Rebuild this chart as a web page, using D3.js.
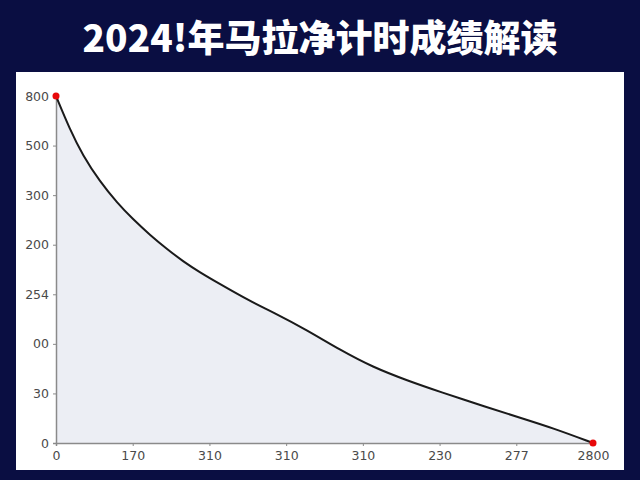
<!DOCTYPE html>
<html>
<head>
<meta charset="utf-8">
<title>2024!年马拉净计时成绩解读</title>
<script src="https://d3js.org/d3.v7.min.js"></script>
<style>
    body { margin: 0; background: #0a0e42; }
    svg { display: block; }
</style>
</head>
<body>
<div id="chart"></div>
<script>
    // tick labels as printed on the chart
    const xTickLabels = ["0", "170", "310", "310", "310", "230", "277", "2800"];
    const yTickLabels = ["0", "30", "00", "254", "200", "300", "500", "800"];

    // curve (x in tick-step units of 10, y in units of 100)
    const xs = [0, 1.8, 3.5, 5.7, 8, 10, 12.3, 14.5, 16.6, 18.8, 21, 25.3, 28.3, 32.7, 37, 41.3, 45.8, 50.1, 56.2, 60.5, 64.8, 70];
    const ys = [700, 633, 580, 528, 484, 452, 419, 391, 366, 344, 324, 286, 264, 228, 188, 153, 126, 103, 72, 51, 30, 0];

    const width = 640, height = 480;
    const panel = { x: 16, y: 72, w: 608, h: 398 };
    const margin = { left: 56, right: 47, top: 96, bottom: 37 };

    const svg = d3.select("#chart").append("svg")
        .attr("width", width)
        .attr("height", height);

    svg.append("text")
        .attr("x", width / 2)
        .attr("y", 52)
        .attr("text-anchor", "middle")
        .attr("fill", "#ffffff")
        .style("font-family", "'Noto Sans CJK SC', sans-serif")
        .style("font-weight", 900)
        .style("font-size", "37px")
        .text("2024!年马拉净计时成绩解读");

    svg.append("rect")
        .attr("x", panel.x).attr("y", panel.y)
        .attr("width", panel.w).attr("height", panel.h)
        .attr("fill", "#ffffff");

    const x = d3.scaleLinear().domain([0, 70]).range([margin.left, width - margin.right]);
    const y = d3.scaleLinear().domain([0, 700]).range([height - margin.bottom, margin.top]);

    const pts = xs.map((v, i) => [v, ys[i]]);

    const area = d3.area()
        .x(d => x(d[0]))
        .y0(y(0))
        .y1(d => y(d[1]))
        .curve(d3.curveBasis);

    const line = d3.line()
        .x(d => x(d[0]))
        .y(d => y(d[1]))
        .curve(d3.curveBasis);

    svg.append("path")
        .datum(pts)
        .attr("fill", "#eceef4")
        .attr("d", area);

    const xAxis = svg.append("g")
        .attr("transform", `translate(0,${y(0)})`)
        .call(d3.axisBottom(x)
            .tickValues(d3.range(0, 80, 10))
            .tickFormat((d, i) => xTickLabels[i])
            .tickSize(3)
            .tickPadding(5));

    const yAxis = svg.append("g")
        .attr("transform", `translate(${x(0)},0)`)
        .call(d3.axisLeft(y)
            .tickValues(d3.range(0, 800, 100))
            .tickFormat((d, i) => yTickLabels[i])
            .tickSize(3)
            .tickPadding(4));

    [xAxis, yAxis].forEach(a => {
        a.select(".domain").attr("stroke", "#8a8a8a").attr("stroke-width", 1.5);
        a.selectAll(".tick line").attr("stroke", "#8a8a8a");
        a.selectAll("text")
            .attr("fill", "#4a4a4a")
            .style("font-family", "'DejaVu Sans', sans-serif")
            .style("font-size", "12.5px");
    });

    svg.append("path")
        .datum(pts)
        .attr("fill", "none")
        .attr("stroke", "#1a1a1a")
        .attr("stroke-width", 2)
        .attr("d", line);

    svg.selectAll("circle.end")
        .data([pts[0], pts[pts.length - 1]])
        .join("circle")
        .attr("class", "end")
        .attr("cx", d => x(d[0]))
        .attr("cy", d => y(d[1]))
        .attr("r", 3.5)
        .attr("fill", "#e8080a");
</script>
</body>
</html>
